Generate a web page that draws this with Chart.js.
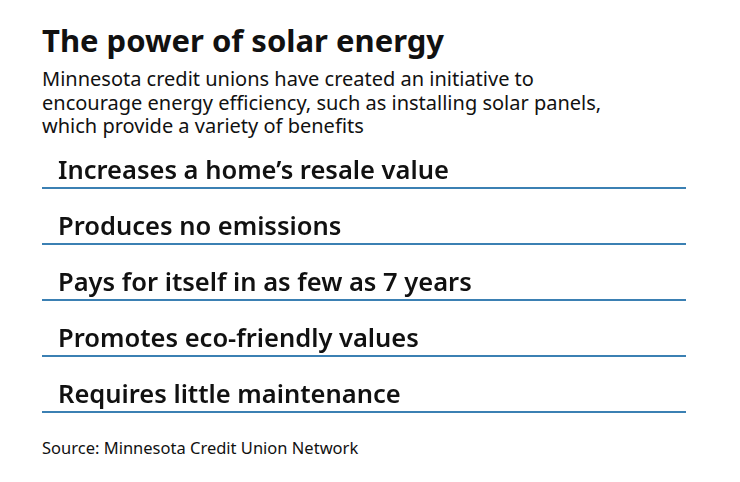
<!DOCTYPE html>
<html><head><meta charset="utf-8">
<script src="https://cdn.jsdelivr.net/npm/chart.js@4"></script>
<style>
body{margin:0;background:#fff;font-family:"Noto Sans",sans-serif;color:#111;}
#wrap{position:relative;width:740px;height:482px;}
h1{position:absolute;left:42px;top:20px;margin:0;font-size:31px;font-weight:700;line-height:40px;}
#sub{position:absolute;left:42px;top:67px;margin:0;font-size:20px;line-height:23.5px;width:690px;}
#src{position:absolute;left:42px;top:436px;font-size:16.5px;}
#box{position:absolute;left:42px;top:133px;width:644px;height:280px;}
</style></head><body>
<div id="wrap">
<h1>The power of solar energy</h1>
<p id="sub">Minnesota credit unions have created an initiative to<br>encourage energy efficiency, such as installing solar panels,<br>which provide a variety of benefits</p>
<div id="box"><canvas id="c"></canvas></div>
<div id="src">Source: Minnesota Credit Union Network</div>
</div>
<script>
const benefits = ["Increases a home\u2019s resale value","Produces no emissions","Pays for itself in as few as 7 years","Promotes eco-friendly values","Requires little maintenance"];
const weights = [1,1,1,1,1];

// draws each benefit as text with a blue rule under its band
const rows = {
  id: 'rows',
  afterDatasetsDraw(chart) {
    const {ctx, chartArea, scales} = chart;
    const y = scales.y;
    const step = y.getPixelForValue(1) - y.getPixelForValue(0);
    ctx.save();
    benefits.forEach((b, i) => {
      const bottom = y.getPixelForValue(i) + step / 2;
      ctx.fillStyle = '#111';
      ctx.font = '600 25.5px "Noto Sans", sans-serif';
      ctx.textBaseline = 'alphabetic';
      ctx.fillText(b, chartArea.left + 16, bottom - 10);
      ctx.strokeStyle = '#3b80b3';
      ctx.lineWidth = 2;
      ctx.beginPath();
      ctx.moveTo(chartArea.left, bottom - 1);
      ctx.lineTo(chartArea.right, bottom - 1);
      ctx.stroke();
    });
    ctx.restore();
  }
};

new Chart(document.getElementById('c'), {
  type: 'bar',
  data: { labels: benefits, datasets: [{ data: weights, backgroundColor: 'rgba(0,0,0,0)' }] },
  options: {
    indexAxis: 'y', responsive: true, maintainAspectRatio: false, animation: false,
    layout: { padding: 0 },
    plugins: { legend: { display: false }, tooltip: { enabled: false } },
    scales: { x: { display: false, min: 0, max: 1 }, y: { display: false } }
  },
  plugins: [rows]
});
</script>
</body></html>
